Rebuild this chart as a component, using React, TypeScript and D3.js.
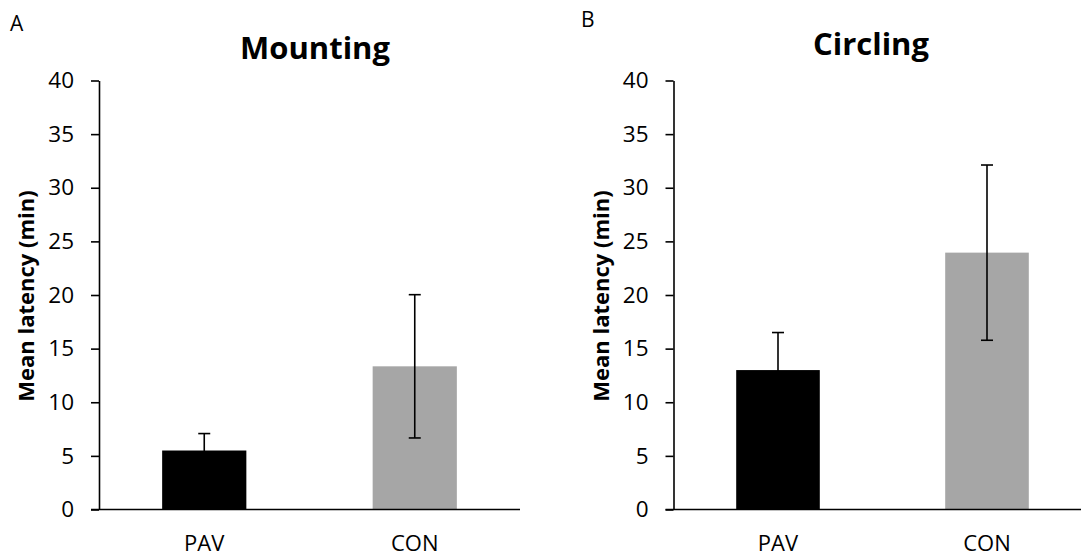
import React, { useEffect, useRef } from 'react'
import { select, scaleBand, scaleLinear, axisLeft } from 'd3'

const categories = ['PAV', 'CON']
const mountingMeans = [5.5, 13.35]
const mountingErrors = [1.58, 6.68]
const circlingMeans = [13.0, 23.95]
const circlingErrors = [3.5, 8.17]
const yTicks = [0, 5, 10, 15, 20, 25, 30, 35, 40]
const barColors = ['#000000', '#a6a6a6']

const width = 1081
const height = 556
const font = '"Open Sans", Calibri, sans-serif'

const panels = [
    { letter: 'A', title: 'Mounting', means: mountingMeans, errors: mountingErrors,
      x0: 99, x1: 520, titleX: 315, titleY: 58.5, letterX: 10, letterY: 31 },
    { letter: 'B', title: 'Circling', means: circlingMeans, errors: circlingErrors,
      x0: 673.5, x1: 1091.5, titleX: 871, titleY: 55, letterX: 581, letterY: 27 },
]

const App = () => {
    const svgRef = useRef<SVGSVGElement>(null)

    useEffect(() => {
        const svg = select(svgRef.current)
        svg.selectAll('*').remove()

        const yScale = scaleLinear().domain([0, 40]).range([509.5, 80.5])

        panels.forEach(p => {
            const g = svg.append('g')

            const xScale = scaleBand()
                .domain(categories)
                .range([p.x0, p.x1])
                .paddingInner(0.6)
                .paddingOuter(0.3)

            // bars
            g.selectAll('.bar')
                .data(categories)
                .enter().append('rect')
                .attr('x', d => xScale(d))
                .attr('y', (d, i) => yScale(p.means[i]))
                .attr('width', xScale.bandwidth())
                .attr('height', (d, i) => yScale(0) - yScale(p.means[i]))
                .attr('fill', (d, i) => barColors[i])

            // y axis
            const yAxis = g.append('g')
                .attr('transform', `translate(${p.x0}, 0)`)
                .attr('font-size', 22.5)
                .attr('font-family', font)
                .call(axisLeft(yScale).tickValues(yTicks).tickSize(8).tickSizeOuter(0).tickPadding(17))
            yAxis.attr('font-size', 22.5).attr('font-family', font)
            yAxis.select('.domain').attr('stroke', '#000').attr('stroke-width', 1.6)
            yAxis.selectAll('.tick line').attr('stroke', '#000').attr('stroke-width', 1.6)
            yAxis.selectAll('.tick text')
                .style('font-size', '22.5px')
                .style('font-family', font)
                .attr('fill', '#000')

            // x axis line
            g.append('line')
                .attr('x1', p.x0 - 8)
                .attr('x2', p.x1)
                .attr('y1', yScale(0))
                .attr('y2', yScale(0))
                .attr('stroke', '#000')
                .attr('stroke-width', 1.6)

            // category labels
            g.selectAll('.cat')
                .data(categories)
                .enter().append('text')
                .attr('x', d => xScale(d) + xScale.bandwidth() / 2)
                .attr('y', 551)
                .attr('text-anchor', 'middle')
                .style('font-family', font)
                .style('font-size', '22px')
                .text(d => d)

            // error bars
            const cx = (d: string) => xScale(d) + xScale.bandwidth() / 2
            const err = g.selectAll('.err')
                .data(categories)
                .enter().append('g')
            err.append('line')
                .attr('x1', cx).attr('x2', cx)
                .attr('y1', (d, i) => yScale(p.means[i] + p.errors[i]))
                .attr('y2', (d, i) => yScale(p.means[i] - p.errors[i]))
                .attr('stroke', '#000').attr('stroke-width', 1.6)
            err.append('line')
                .attr('x1', d => cx(d) - 6).attr('x2', d => cx(d) + 6)
                .attr('y1', (d, i) => yScale(p.means[i] + p.errors[i]))
                .attr('y2', (d, i) => yScale(p.means[i] + p.errors[i]))
                .attr('stroke', '#000').attr('stroke-width', 1.6)
            err.append('line')
                .attr('x1', d => cx(d) - 6).attr('x2', d => cx(d) + 6)
                .attr('y1', (d, i) => yScale(p.means[i] - p.errors[i]))
                .attr('y2', (d, i) => yScale(p.means[i] - p.errors[i]))
                .attr('stroke', '#000').attr('stroke-width', 1.6)

            // y axis title
            g.append('text')
                .attr('transform', `translate(${p.x0 - 65}, 296) rotate(-90)`)
                .attr('text-anchor', 'middle')
                .style('font-family', font)
                .style('font-weight', 'bold')
                .style('font-size', '22px')
                .text('Mean latency (min)')

            // chart title
            g.append('text')
                .attr('x', p.titleX)
                .attr('y', p.titleY)
                .attr('text-anchor', 'middle')
                .style('font-family', font)
                .style('font-weight', 'bold')
                .style('font-size', '31px')
                .text(p.title)

            // panel letter
            g.append('text')
                .attr('x', p.letterX)
                .attr('y', p.letterY)
                .style('font-family', font)
                .style('font-size', '21px')
                .text(p.letter)
        })
    }, [])

    return (
        <svg ref={svgRef} width={width} height={height}
             style={{ position: 'absolute', left: 0, top: 0, background: '#fff' }} />
    )
}

export default App
